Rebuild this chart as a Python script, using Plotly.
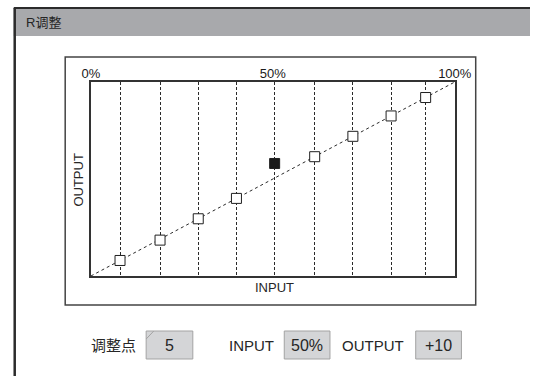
import plotly.graph_objects as go

W, H = 547, 376

# curve points (input %, output %)
input_pct = [8, 19, 29.5, 40, 50.5, 61.5, 72, 82.5, 92]
output_pct = [8, 18.5, 29.5, 40, 58, 61.5, 72, 82.5, 92]
selected_index = 4

top_tick_vals = [0, 50, 100]
top_tick_text = ["0%", "50%", "100%"]

title_text = "R调整"
field_labels = ["调整点", "INPUT", "OUTPUT"]
field_values = ["5", "50%", "+10"]

LATIN = "Liberation Sans Narrow, Arial Narrow, Liberation Sans, Arial, sans-serif"
MIXED = "Liberation Sans Narrow, Liberation Sans, Noto Sans CJK SC, sans-serif"
PLAIN = "Liberation Sans, Arial, sans-serif"


def px(x):
    return x / W


def py(y):
    return 1 - y / H


def note(text, x, y, size, family, xanchor="center", yanchor="middle", angle=0):
    return dict(text=text, x=px(x), y=py(y), xref="paper", yref="paper",
                xanchor=xanchor, yanchor=yanchor, textangle=angle, showarrow=False,
                font={"family": family, "size": size, "color": "#262626"})


plot_l, plot_r, plot_t, plot_b = 86, 468, 82, 276

fig = go.Figure()

# diagonal reference line
fig.add_trace(
    go.Scatter(
        x=[0, 100],
        y=[0, 100],
        mode="lines",
        line={"color": "#2a2a2a", "width": 1, "dash": "3px,3px"},
        hoverinfo="skip",
        showlegend=False,
    )
)

marker_fill = ["#1a1a1a" if i == selected_index else "white" for i in range(len(input_pct))]
fig.add_trace(
    go.Scatter(
        x=input_pct,
        y=output_pct,
        mode="markers",
        marker={
            "symbol": "square",
            "size": 10,
            "color": marker_fill,
            "line": {"color": "#1f1f1f", "width": 1},
        },
        showlegend=False,
    )
)

# invisible trace to activate the top axis
fig.add_trace(
    go.Scatter(x=[0, 100], y=[0, 0], xaxis="x2", mode="markers",
               marker={"opacity": 0}, hoverinfo="skip", showlegend=False)
)

shapes = [
    # title bar
    dict(type="rect", xref="paper", yref="paper", x0=px(5), x1=1, y0=py(36), y1=py(8),
         fillcolor="#a8a9ac", line={"width": 0}, layer="below"),
    dict(type="line", xref="paper", yref="paper", x0=px(5), x1=1, y0=py(8), y1=py(8),
         line={"color": "#2b2b2b", "width": 2}),
    dict(type="line", xref="paper", yref="paper", x0=px(6), x1=px(6), y0=py(8), y1=0,
         line={"color": "#2b2b2b", "width": 2.5}),
    # chart frame
    dict(type="rect", xref="paper", yref="paper", x0=px(59), x1=px(490), y0=py(305), y1=py(57),
         line={"color": "#444444", "width": 1.5}, layer="below"),
]

annotations = [
    note(title_text, 16, 22, 13, MIXED, xanchor="left"),
    note("OUTPUT", 72, 180, 13, PLAIN, angle=-90),
    note("INPUT", 279, 287, 13, PLAIN),
]

label_right = [135, 280, 417]
box_spans = [(144, 193), (289, 337), (427, 475)]
for label, value, lr, (b0, b1) in zip(field_labels, field_values, label_right, box_spans):
    shapes.append(dict(type="rect", xref="paper", yref="paper", x0=px(b0), x1=px(b1),
                       y0=py(359), y1=py(331), fillcolor="#d4d5d7",
                       line={"color": "#a3a3a3", "width": 1}))
    annotations.append(note(label, lr, 345, 15, MIXED, xanchor="right"))
    annotations.append(note(value, (b0 + b1) / 2, 345, 16, LATIN))

# small dog-ear on first box
shapes.append(dict(type="line", xref="paper", yref="paper", x0=px(144), x1=px(152),
                   y0=py(339), y1=py(331), line={"color": "#a3a3a3", "width": 1}))

axis_font = {"family": PLAIN, "size": 13, "color": "#1a1a1a"}

fig.update_layout(
    width=W,
    height=H,
    autosize=False,
    margin={"l": 0, "r": 0, "t": 0, "b": 0, "pad": 0},
    paper_bgcolor="white",
    plot_bgcolor="white",
    shapes=shapes,
    annotations=annotations,
    xaxis=dict(
        domain=[px(plot_l), px(plot_r)],
        range=[0, 100],
        tickvals=input_pct,
        showticklabels=False,
        ticks="",
        showgrid=True,
        gridcolor="#2a2a2a",
        gridwidth=1,
        griddash="3px,2px",
        showline=True,
        linecolor="#333333",
        linewidth=1.5,
        mirror=True,
        zeroline=False,
        fixedrange=True,
    ),
    xaxis2=dict(
        overlaying="x",
        side="top",
        range=[0, 100],
        tickvals=top_tick_vals,
        ticktext=top_tick_text,
        ticks="",
        showgrid=False,
        zeroline=False,
        tickfont=axis_font,
        fixedrange=True,
    ),
    yaxis=dict(
        domain=[py(plot_b), py(plot_t)],
        range=[0, 100],
        showticklabels=False,
        ticks="",
        showgrid=False,
        showline=True,
        linecolor="#333333",
        linewidth=1.5,
        mirror=True,
        zeroline=False,
        fixedrange=True,
    ),
)

# drop the default body margin so the 547x376 figure fills the window
fig.write_html(
    "out.html",
    config={"displayModeBar": False, "responsive": False},
    post_script="document.body.style.margin='0';document.body.style.overflow='hidden';",
)
